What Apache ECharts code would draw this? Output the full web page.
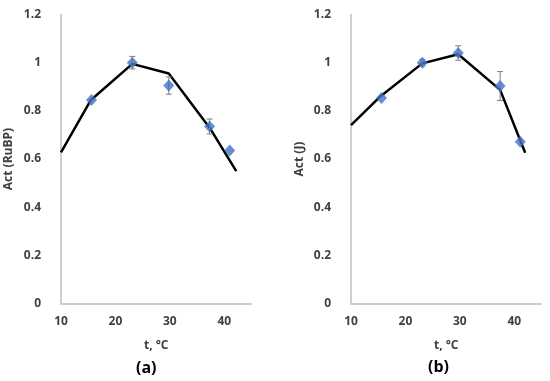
<!DOCTYPE html>
<html><head><meta charset="utf-8">
<script src="https://cdn.jsdelivr.net/npm/echarts@6/dist/echarts.min.js"></script>
<style>html,body{margin:0;padding:0;background:#fff}#c{width:550px;height:381px}</style>
</head><body><div id="c"></div>
<script>
// Panel (a): RuBP
const aObsT = [15.6, 23.1, 29.8, 37.3, 41.0];
const aObsV = [0.845, 1.0, 0.905, 0.735, 0.635];
const aObsErr = [0, 0.026, 0.036, 0.031, 0];
const aModT = [10, 15.5, 23.1, 29.8, 37.3, 42.2];
const aModV = [0.628, 0.845, 0.995, 0.955, 0.73, 0.55];
// Panel (b): J
const bObsT = [15.6, 23.1, 29.7, 37.4, 41.1];
const bObsV = [0.853, 1.0, 1.04, 0.903, 0.672];
const bObsErr = [0, 0.014, 0.03, 0.06, 0];
const bModT = [10, 15.5, 23.1, 29.7, 37.4, 42.0];
const bModV = [0.741, 0.862, 0.997, 1.035, 0.887, 0.626];
const xTicks = [10, 20, 30, 40];
const yTicks = [0, 0.2, 0.4, 0.6, 0.8, 1, 1.2];

const font = "'Open Sans', 'Liberation Sans', sans-serif";
const zip = (a, b) => a.map((v, i) => [v, b[i]]);
const errData = (t, v, e) => t.map((x, i) => [x, v[i] - e[i], v[i] + e[i]]).filter((d, i) => e[i] > 0);

function xAxis(gi) {
  return {
    gridIndex: gi, type: 'value', min: 10, max: 45, interval: 10,
    name: 't, °C', nameLocation: 'middle', nameGap: 36,
    nameTextStyle: {fontFamily: font, fontWeight: 'bold', fontSize: 12, color: '#404040'},
    axisLine: {lineStyle: {color: '#bfbfbf', width: 1.5}},
    axisTick: {show: false}, splitLine: {show: false},
    axisLabel: {fontFamily: font, fontWeight: 'bold', fontSize: 12, color: '#404040', margin: 12,
      formatter: v => xTicks.includes(v) ? String(v) : ''}
  };
}
function yAxis(gi, name, gap) {
  return {
    gridIndex: gi, type: 'value', min: 0, max: 1.2, interval: 0.2,
    name: name, nameLocation: 'middle', nameGap: gap,
    nameTextStyle: {fontFamily: font, fontWeight: 'bold', fontSize: 12, color: '#404040'},
    axisLine: {show: true, lineStyle: {color: '#bfbfbf', width: 1.5}},
    axisTick: {show: false}, splitLine: {show: false},
    axisLabel: {fontFamily: font, fontWeight: 'bold', fontSize: 12, color: '#404040', margin: 20,
      formatter: v => { const t = yTicks.find(y => Math.abs(y - v) < 1e-6); return t === undefined ? '' : String(t); }}
  };
}
function errSeries(gi, data) {
  return {
    type: 'custom', xAxisIndex: gi, yAxisIndex: gi, data: data, z: 3,
    renderItem: (params, api) => {
      const x = api.value(0);
      const lo = api.coord([x, api.value(1)]);
      const hi = api.coord([x, api.value(2)]);
      const w = 3;
      const st = {stroke: '#7f7f7f', lineWidth: 1};
      return {type: 'group', children: [
        {type: 'line', shape: {x1: lo[0], y1: lo[1], x2: hi[0], y2: hi[1]}, style: st},
        {type: 'line', shape: {x1: lo[0] - w, y1: lo[1], x2: lo[0] + w, y2: lo[1]}, style: st},
        {type: 'line', shape: {x1: hi[0] - w, y1: hi[1], x2: hi[0] + w, y2: hi[1]}, style: st}
      ]};
    }
  };
}
function lineSeries(gi, data) {
  return {type: 'line', xAxisIndex: gi, yAxisIndex: gi, data: data, showSymbol: false,
    lineStyle: {color: '#000', width: 2.5}, z: 2, animation: false};
}
function scatterSeries(gi, data) {
  return {type: 'scatter', xAxisIndex: gi, yAxisIndex: gi, data: data, symbol: 'diamond',
    symbolSize: [11, 12], itemStyle: {color: '#4472c4'}, z: 4};
}

const chart = echarts.init(document.getElementById('c'), null, {renderer: 'canvas'});
chart.setOption({
  animation: false,
  backgroundColor: '#fff',
  grid: [
    {left: 61, top: 14.5, width: 190.5, bottom: 77.5},
    {left: 351, top: 14.5, width: 190.5, bottom: 77.5}
  ],
  xAxis: [xAxis(0), xAxis(1)],
  yAxis: [yAxis(0, 'Act (RuBP)', 46), yAxis(1, 'Act (J)', 45)],
  graphic: [
    {type: 'text', left: 136, top: 360, style: {text: '(a)', font: "bold 16px " + font, fill: '#000'}},
    {type: 'text', left: 428, top: 359, style: {text: '(b)', font: "bold 16px " + font, fill: '#000'}}
  ],
  series: [
    lineSeries(0, zip(aModT, aModV)),
    errSeries(0, errData(aObsT, aObsV, aObsErr)),
    scatterSeries(0, zip(aObsT, aObsV)),
    lineSeries(1, zip(bModT, bModV)),
    errSeries(1, errData(bObsT, bObsV, bObsErr)),
    scatterSeries(1, zip(bObsT, bObsV))
  ]
});
</script></body></html>
